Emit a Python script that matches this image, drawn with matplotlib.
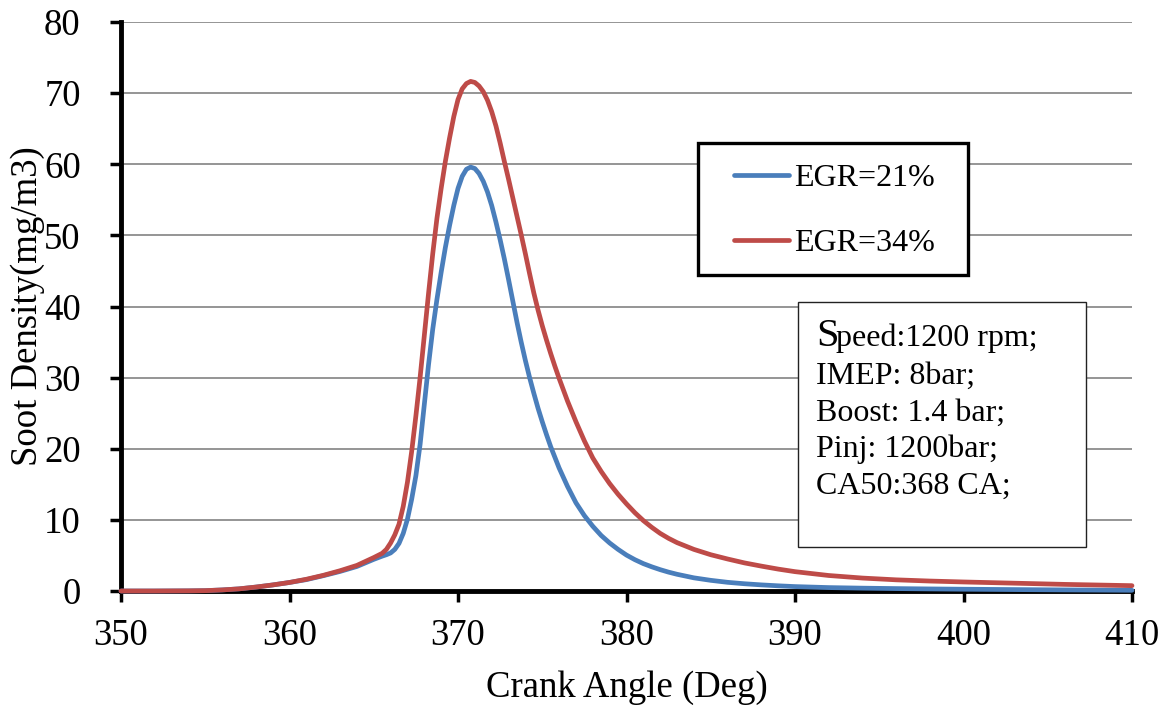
import numpy as np
import matplotlib.pyplot as plt
from matplotlib.patches import Rectangle

plt.rcParams['font.family'] = ['Liberation Serif', 'DejaVu Serif']

# Crank angle (deg) and soot density (mg/m3) for the two EGR rates
crank_angle = [350, 352, 354, 355, 356, 357, 358, 359, 360, 361, 362, 363, 364,
               364.5, 365, 365.5, 365.75, 366, 366.25, 366.5, 366.75, 367,
               367.25, 367.5, 367.75, 368, 368.25, 368.5, 368.75, 369, 369.25,
               369.5, 369.75, 370, 370.25, 370.5, 370.75, 371, 371.25, 371.5,
               371.75, 372, 372.25, 372.5, 372.75, 373, 373.25, 373.5, 373.75,
               374, 374.25, 374.5, 374.75, 375, 375.25, 375.5, 375.75, 376,
               376.5, 377, 377.5, 378, 378.5, 379, 379.5, 380, 380.5, 381,
               381.5, 382, 382.5, 383, 384, 385, 386, 387, 388, 389, 390, 392,
               394, 396, 398, 400, 403, 406, 410]
soot_egr21 = [0, 0, 0.02, 0.05, 0.15, 0.3, 0.55, 0.85, 1.2, 1.6, 2.15, 2.75, 3.45,
              3.95, 4.45, 4.9, 5.1, 5.35, 5.85, 6.7, 8.1, 10.1,
              12.9, 16.2, 20.6, 26.2, 31.8, 36.8, 41.0, 44.8, 48.3,
              51.4, 54.2, 56.6, 58.3, 59.3, 59.6, 59.4, 58.7, 57.6,
              56.1, 54.2, 51.9, 49.4, 46.7, 43.8, 40.8, 37.8, 35.0,
              32.4, 30.0, 27.8, 25.7, 23.8, 22.0, 20.3, 18.8, 17.3,
              14.7, 12.4, 10.6, 9.1, 7.8, 6.75, 5.85, 5.05, 4.4, 3.85,
              3.4, 3.0, 2.65, 2.35, 1.85, 1.5, 1.22, 1.02, 0.86, 0.73, 0.62, 0.48,
              0.4, 0.34, 0.29, 0.25, 0.2, 0.15, 0.1]
soot_egr34 = [0, 0, 0.02, 0.05, 0.15, 0.3, 0.55, 0.85, 1.2, 1.65, 2.2, 2.85, 3.6,
              4.15, 4.7, 5.3, 5.85, 6.75, 7.9, 9.4, 11.9, 15.3,
              19.6, 24.6, 30.0, 35.9, 41.8, 47.4, 52.4, 56.6, 60.4,
              63.7, 66.7, 69.1, 70.6, 71.35, 71.65, 71.5, 71.0, 70.2,
              69.0, 67.4, 65.4, 63.0, 60.4, 57.9, 55.3, 52.7, 50.1,
              47.4, 44.6, 41.9, 39.5, 37.3, 35.3, 33.4, 31.6, 29.9,
              26.7, 23.8, 21.1, 18.7, 16.8, 15.1, 13.6, 12.25, 11.0, 9.9,
              8.95, 8.1, 7.4, 6.8, 5.85, 5.1, 4.5, 3.95, 3.5, 3.08, 2.72, 2.18,
              1.82, 1.57, 1.4, 1.27, 1.1, 0.93, 0.75]
series_labels = ['EGR=21%', 'EGR=34%']
series_colors = ['#4A7EBB', '#BE4B48']

conditions = ['IMEP: 8bar;', 'Boost: 1.4 bar;', 'Pinj: 1200bar;', 'CA50:368 CA;']

W, H = 1167, 709
fig = plt.figure(figsize=(W / 100, H / 100), dpi=100)
ax = fig.add_axes([121 / W, 1 - 591 / H, (1132 - 121) / W, (591 - 22) / H])


def px(x, y):
    """Pixel position (from top-left) to figure fraction."""
    return x / W, 1 - y / H


for vals, lab, col in zip([soot_egr21, soot_egr34], series_labels, series_colors):
    ax.plot(crank_angle, vals, color=col, lw=3.4, label=lab,
            solid_capstyle='round', solid_joinstyle='round',
            zorder=6, clip_on=False)

ax.set_xlim(350, 410)
ax.set_ylim(0, 80)
ax.set_xticks(np.arange(350, 411, 10))
ax.set_yticks(np.arange(0, 81, 10))
ax.yaxis.grid(True, color='#8c8c8c', lw=1.3)
ax.set_axisbelow(True)

for side in ['top', 'right']:
    ax.spines[side].set_visible(False)
for side in ['left', 'bottom']:
    ax.spines[side].set_linewidth(3.5)
    ax.spines[side].set_zorder(5)

ax.tick_params(axis='both', direction='out', length=8, width=2.5,
               labelsize=26.5, colors='black')
ax.tick_params(axis='y', pad=21)
ax.tick_params(axis='x', pad=12)

ax.set_xlabel('Crank Angle (Deg)', fontsize=26.5, labelpad=12)
ax.set_ylabel('Soot Density(mg/m3)', fontsize=26.5, labelpad=-1)

# legend sits on its own white box
x0, y0 = px(698, 275)
x1, y1 = px(968, 143)
ax.add_patch(Rectangle((x0, y0), x1 - x0, y1 - y0, transform=fig.transFigure,
                       facecolor='white', edgecolor='black', lw=2.4,
                       zorder=3, clip_on=False))
leg = ax.legend(frameon=False, loc='upper left', bbox_to_anchor=px(734, 164),
                bbox_transform=fig.transFigure, borderpad=0, borderaxespad=0,
                handlelength=1.72, handletextpad=0.15, labelspacing=1.1,
                fontsize=23)
leg.set_zorder(8)

# operating conditions box
x0, y0 = px(798, 547)
x1, y1 = px(1086, 302)
ax.add_patch(Rectangle((x0, y0), x1 - x0, y1 - y0, transform=fig.transFigure,
                       facecolor='white', edgecolor='#222222', lw=1.0,
                       zorder=3, clip_on=False))
fig.text(*px(816, 346), 'S', fontsize=29, va='baseline', ha='left', zorder=7)
fig.text(*px(836, 346), 'peed:1200 rpm;', fontsize=23, va='baseline',
         ha='left', zorder=7)
for i, line in enumerate(conditions):
    fig.text(*px(816, 384 + i * 36.7), line, fontsize=23, va='baseline',
             ha='left', zorder=7)

fig.savefig('out.png', dpi=100, facecolor='white')
